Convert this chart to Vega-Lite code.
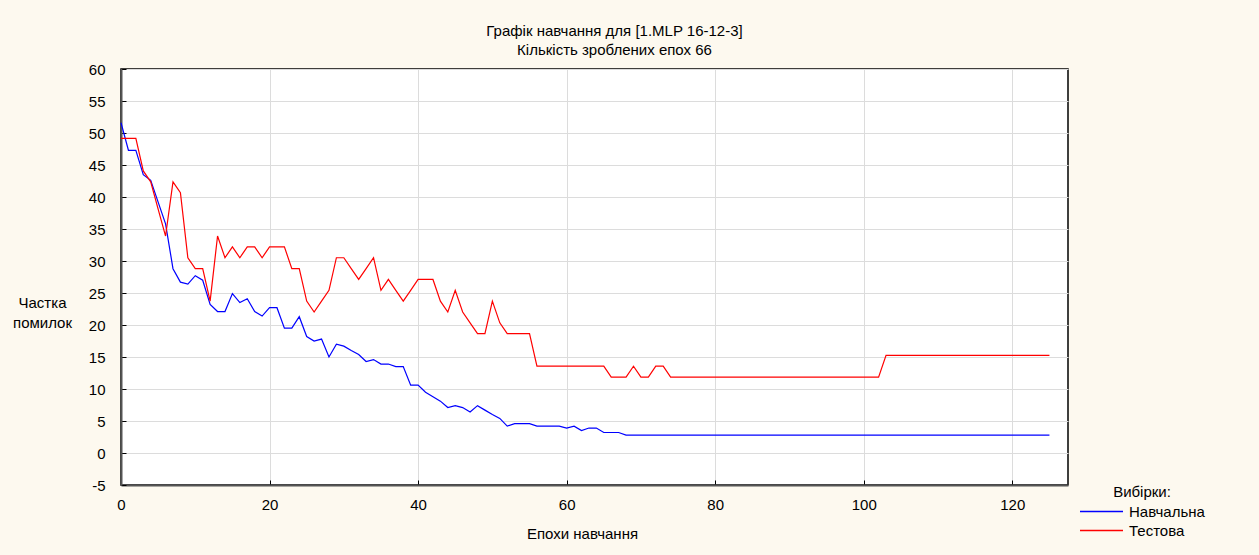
{
  "$schema": "https://vega.github.io/schema/vega-lite/v6.json",
  "width": 947,
  "height": 416,
  "autosize": "none",
  "padding": {"left": 121, "top": 69, "right": 191, "bottom": 70},
  "background": "#fdf9ef",
  "title": {
    "text": ["Графік навчання для [1.MLP 16-12-3]", "Кількість зроблених епох 66"],
    "font": "Liberation Sans",
    "fontSize": 15,
    "fontWeight": "normal",
    "color": "#000000",
    "anchor": "middle",
    "dx": 20,
    "offset": 4,
    "lineHeight": 19
  },
  "data": {
    "values": [
      {"epoch": 0, "Навчальна": 51.6, "Тестова": 49.15},
      {"epoch": 1, "Навчальна": 47.3, "Тестова": 49.15},
      {"epoch": 2, "Навчальна": 47.3, "Тестова": 49.15},
      {"epoch": 3, "Навчальна": 43.5, "Тестова": 44.07},
      {"epoch": 4, "Навчальна": 42.6, "Тестова": 42.37},
      {"epoch": 5, "Навчальна": 39.2, "Тестова": 38.1},
      {"epoch": 6, "Навчальна": 35.8, "Тестова": 33.9},
      {"epoch": 7, "Навчальна": 28.8, "Тестова": 42.37},
      {"epoch": 8, "Навчальна": 26.7, "Тестова": 40.68},
      {"epoch": 9, "Навчальна": 26.4, "Тестова": 30.51},
      {"epoch": 10, "Навчальна": 27.7, "Тестова": 28.81},
      {"epoch": 11, "Навчальна": 27.0, "Тестова": 28.81},
      {"epoch": 12, "Навчальна": 23.2, "Тестова": 23.73},
      {"epoch": 13, "Навчальна": 22.1, "Тестова": 33.9},
      {"epoch": 14, "Навчальна": 22.1, "Тестова": 30.51},
      {"epoch": 15, "Навчальна": 24.9, "Тестова": 32.2},
      {"epoch": 16, "Навчальна": 23.5, "Тестова": 30.51},
      {"epoch": 17, "Навчальна": 24.1, "Тестова": 32.2},
      {"epoch": 18, "Навчальна": 22.1, "Тестова": 32.2},
      {"epoch": 19, "Навчальна": 21.4, "Тестова": 30.51},
      {"epoch": 20, "Навчальна": 22.7, "Тестова": 32.2},
      {"epoch": 21, "Навчальна": 22.7, "Тестова": 32.2},
      {"epoch": 22, "Навчальна": 19.5, "Тестова": 32.2},
      {"epoch": 23, "Навчальна": 19.5, "Тестова": 28.81},
      {"epoch": 24, "Навчальна": 21.3, "Тестова": 28.81},
      {"epoch": 25, "Навчальна": 18.2, "Тестова": 23.73},
      {"epoch": 26, "Навчальна": 17.5, "Тестова": 22.03},
      {"epoch": 27, "Навчальна": 17.8, "Тестова": 23.73},
      {"epoch": 28, "Навчальна": 15.0, "Тестова": 25.42},
      {"epoch": 29, "Навчальна": 17.0, "Тестова": 30.51},
      {"epoch": 30, "Навчальна": 16.7, "Тестова": 30.51},
      {"epoch": 31, "Навчальна": 16.0, "Тестова": 28.81},
      {"epoch": 32, "Навчальна": 15.4, "Тестова": 27.12},
      {"epoch": 33, "Навчальна": 14.3, "Тестова": 28.81},
      {"epoch": 34, "Навчальна": 14.6, "Тестова": 30.51},
      {"epoch": 35, "Навчальна": 13.9, "Тестова": 25.42},
      {"epoch": 36, "Навчальна": 13.9, "Тестова": 27.12},
      {"epoch": 37, "Навчальна": 13.5, "Тестова": 25.42},
      {"epoch": 38, "Навчальна": 13.5, "Тестова": 23.73},
      {"epoch": 39, "Навчальна": 10.6, "Тестова": 25.42},
      {"epoch": 40, "Навчальна": 10.6, "Тестова": 27.12},
      {"epoch": 41, "Навчальна": 9.5, "Тестова": 27.12},
      {"epoch": 42, "Навчальна": 8.8, "Тестова": 27.12},
      {"epoch": 43, "Навчальна": 8.1, "Тестова": 23.73},
      {"epoch": 44, "Навчальна": 7.1, "Тестова": 22.03},
      {"epoch": 45, "Навчальна": 7.4, "Тестова": 25.42},
      {"epoch": 46, "Навчальна": 7.1, "Тестова": 22.03},
      {"epoch": 47, "Навчальна": 6.4, "Тестова": 20.34},
      {"epoch": 48, "Навчальна": 7.4, "Тестова": 18.64},
      {"epoch": 49, "Навчальна": 6.7, "Тестова": 18.64},
      {"epoch": 50, "Навчальна": 6.0, "Тестова": 23.73},
      {"epoch": 51, "Навчальна": 5.4, "Тестова": 20.34},
      {"epoch": 52, "Навчальна": 4.2, "Тестова": 18.64},
      {"epoch": 53, "Навчальна": 4.6, "Тестова": 18.64},
      {"epoch": 54, "Навчальна": 4.6, "Тестова": 18.64},
      {"epoch": 55, "Навчальна": 4.6, "Тестова": 18.64},
      {"epoch": 56, "Навчальна": 4.2, "Тестова": 13.56},
      {"epoch": 57, "Навчальна": 4.2, "Тестова": 13.56},
      {"epoch": 58, "Навчальна": 4.2, "Тестова": 13.56},
      {"epoch": 59, "Навчальна": 4.2, "Тестова": 13.56},
      {"epoch": 60, "Навчальна": 3.9, "Тестова": 13.56},
      {"epoch": 61, "Навчальна": 4.2, "Тестова": 13.56},
      {"epoch": 62, "Навчальна": 3.5, "Тестова": 13.56},
      {"epoch": 63, "Навчальна": 3.9, "Тестова": 13.56},
      {"epoch": 64, "Навчальна": 3.9, "Тестова": 13.56},
      {"epoch": 65, "Навчальна": 3.2, "Тестова": 13.56},
      {"epoch": 66, "Навчальна": 3.2, "Тестова": 11.86},
      {"epoch": 67, "Навчальна": 3.2, "Тестова": 11.86},
      {"epoch": 68, "Навчальна": 2.8, "Тестова": 11.86},
      {"epoch": 69, "Навчальна": 2.8, "Тестова": 13.56},
      {"epoch": 70, "Навчальна": 2.8, "Тестова": 11.86},
      {"epoch": 71, "Навчальна": 2.8, "Тестова": 11.86},
      {"epoch": 72, "Навчальна": 2.8, "Тестова": 13.56},
      {"epoch": 73, "Навчальна": 2.8, "Тестова": 13.56},
      {"epoch": 74, "Навчальна": 2.8, "Тестова": 11.86},
      {"epoch": 75, "Навчальна": 2.8, "Тестова": 11.86},
      {"epoch": 76, "Навчальна": 2.8, "Тестова": 11.86},
      {"epoch": 77, "Навчальна": 2.8, "Тестова": 11.86},
      {"epoch": 78, "Навчальна": 2.8, "Тестова": 11.86},
      {"epoch": 79, "Навчальна": 2.8, "Тестова": 11.86},
      {"epoch": 80, "Навчальна": 2.8, "Тестова": 11.86},
      {"epoch": 81, "Навчальна": 2.8, "Тестова": 11.86},
      {"epoch": 82, "Навчальна": 2.8, "Тестова": 11.86},
      {"epoch": 83, "Навчальна": 2.8, "Тестова": 11.86},
      {"epoch": 84, "Навчальна": 2.8, "Тестова": 11.86},
      {"epoch": 85, "Навчальна": 2.8, "Тестова": 11.86},
      {"epoch": 86, "Навчальна": 2.8, "Тестова": 11.86},
      {"epoch": 87, "Навчальна": 2.8, "Тестова": 11.86},
      {"epoch": 88, "Навчальна": 2.8, "Тестова": 11.86},
      {"epoch": 89, "Навчальна": 2.8, "Тестова": 11.86},
      {"epoch": 90, "Навчальна": 2.8, "Тестова": 11.86},
      {"epoch": 91, "Навчальна": 2.8, "Тестова": 11.86},
      {"epoch": 92, "Навчальна": 2.8, "Тестова": 11.86},
      {"epoch": 93, "Навчальна": 2.8, "Тестова": 11.86},
      {"epoch": 94, "Навчальна": 2.8, "Тестова": 11.86},
      {"epoch": 95, "Навчальна": 2.8, "Тестова": 11.86},
      {"epoch": 96, "Навчальна": 2.8, "Тестова": 11.86},
      {"epoch": 97, "Навчальна": 2.8, "Тестова": 11.86},
      {"epoch": 98, "Навчальна": 2.8, "Тестова": 11.86},
      {"epoch": 99, "Навчальна": 2.8, "Тестова": 11.86},
      {"epoch": 100, "Навчальна": 2.8, "Тестова": 11.86},
      {"epoch": 101, "Навчальна": 2.8, "Тестова": 11.86},
      {"epoch": 102, "Навчальна": 2.8, "Тестова": 11.86},
      {"epoch": 103, "Навчальна": 2.8, "Тестова": 15.25},
      {"epoch": 104, "Навчальна": 2.8, "Тестова": 15.25},
      {"epoch": 105, "Навчальна": 2.8, "Тестова": 15.25},
      {"epoch": 106, "Навчальна": 2.8, "Тестова": 15.25},
      {"epoch": 107, "Навчальна": 2.8, "Тестова": 15.25},
      {"epoch": 108, "Навчальна": 2.8, "Тестова": 15.25},
      {"epoch": 109, "Навчальна": 2.8, "Тестова": 15.25},
      {"epoch": 110, "Навчальна": 2.8, "Тестова": 15.25},
      {"epoch": 111, "Навчальна": 2.8, "Тестова": 15.25},
      {"epoch": 112, "Навчальна": 2.8, "Тестова": 15.25},
      {"epoch": 113, "Навчальна": 2.8, "Тестова": 15.25},
      {"epoch": 114, "Навчальна": 2.8, "Тестова": 15.25},
      {"epoch": 115, "Навчальна": 2.8, "Тестова": 15.25},
      {"epoch": 116, "Навчальна": 2.8, "Тестова": 15.25},
      {"epoch": 117, "Навчальна": 2.8, "Тестова": 15.25},
      {"epoch": 118, "Навчальна": 2.8, "Тестова": 15.25},
      {"epoch": 119, "Навчальна": 2.8, "Тестова": 15.25},
      {"epoch": 120, "Навчальна": 2.8, "Тестова": 15.25},
      {"epoch": 121, "Навчальна": 2.8, "Тестова": 15.25},
      {"epoch": 122, "Навчальна": 2.8, "Тестова": 15.25},
      {"epoch": 123, "Навчальна": 2.8, "Тестова": 15.25},
      {"epoch": 124, "Навчальна": 2.8, "Тестова": 15.25},
      {"epoch": 125, "Навчальна": 2.8, "Тестова": 15.25}
    ]
  },
  "transform": [{"fold": ["Навчальна", "Тестова"], "as": ["sample", "error"]}],
  "mark": {"type": "line", "strokeWidth": 1.2},
  "encoding": {
    "x": {
      "field": "epoch",
      "type": "quantitative",
      "scale": {"domain": [0, 127.5], "nice": false, "zero": false},
      "axis": {
        "values": [0, 20, 40, 60, 80, 100, 120],
        "title": "Епохи навчання",
        "titleFont": "Liberation Sans",
        "titleFontSize": 15,
        "titleFontWeight": "normal",
        "titleColor": "#000000",
        "titleX": 461,
        "titleY": 41,
        "titleAlign": "center",
        "labelFont": "Liberation Sans",
        "labelFontSize": 15,
        "labelColor": "#000000",
        "labelPadding": 17,
        "labelFlush": false,
        "tickSize": -5,
        "tickColor": "#000000",
        "domainColor": "#555555",
        "domainWidth": 2,
        "gridColor": "#dcdcdc",
        "gridWidth": 1
      }
    },
    "y": {
      "field": "error",
      "type": "quantitative",
      "scale": {"domain": [-5, 60], "nice": false, "zero": false},
      "axis": {
        "values": [-5, 0, 5, 10, 15, 20, 25, 30, 35, 40, 45, 50, 55, 60],
        "labelExpr": "replace(datum.label, '−', '-')",
        "title": ["Частка", "помилок"],
        "titleAngle": 0,
        "titleFont": "Liberation Sans",
        "titleFontSize": 15,
        "titleFontWeight": "normal",
        "titleColor": "#000000",
        "titleX": -79,
        "titleY": 226,
        "titleAlign": "center",
        "titleBaseline": "top",
        "titleLineHeight": 20,
        "labelFont": "Liberation Sans",
        "labelFontSize": 15,
        "labelColor": "#000000",
        "labelPadding": 21,
        "tickSize": -5,
        "tickColor": "#000000",
        "domainColor": "#555555",
        "domainWidth": 2,
        "gridColor": "#dcdcdc",
        "gridWidth": 1
      }
    },
    "color": {
      "field": "sample",
      "type": "nominal",
      "scale": {"domain": ["Навчальна", "Тестова"], "range": ["#0000ff", "#ff0000"]},
      "legend": {
        "orient": "none",
        "legendX": 958,
        "legendY": 416,
        "title": "Вибірки:",
        "titleFont": "Liberation Sans",
        "titleFontSize": 15,
        "titleFontWeight": "normal",
        "titleColor": "#000000",
        "titleAnchor": "middle",
        "titlePadding": 3,
        "labelFont": "Liberation Sans",
        "labelFontSize": 15,
        "labelColor": "#000000",
        "labelOffset": 5,
        "symbolType": "stroke",
        "symbolSize": 1849,
        "symbolStrokeWidth": 1.5,
        "clipHeight": 17,
        "rowPadding": 2,
        "padding": 0
      }
    }
  },
  "config": {
    "view": {"stroke": "#000000", "strokeWidth": 1.5, "fill": "#ffffff"}
  }
}
